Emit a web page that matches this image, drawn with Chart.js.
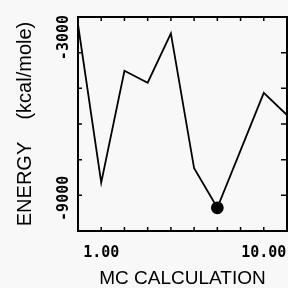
<!DOCTYPE html>
<html>
<head>
<meta charset="utf-8">
<script src="https://cdn.jsdelivr.net/npm/chart.js@4"></script>
<style>
  html, body { margin: 0; padding: 0; background: #f8f8f8; overflow: hidden; }
  #wrap { width: 292px; height: 288px; }
</style>
</head>
<body>
<div id="wrap"><canvas id="myChart"></canvas></div>
<script>
'use strict';

// ****** Data ******
let steps = [0, 1, 2, 3, 4, 5, 6, 7, 8, 9];
let energies = [-3250, -8575, -4810, -5210, -3550, -8090, -9420, -7490, -5550, -6300];
let lowestIndex = 6;

let xTickValues = [1, 8];
let xTickLabels = ['1.00', '10.00'];
let yTickValues = [-3000, -9000];
let yTickLabels = ['-3000', '-9000'];

let xTitle = 'MC CALCULATION';
let yTitle = 'ENERGY    (kcal/mole)';

const ctx = document.getElementById('myChart').getContext('2d');

let points = steps.map((s, i) => ({ x: s, y: energies[i] }));
let radii = steps.map((s, i) => i === lowestIndex ? 5.5 : 0);

// frame, inward ticks and rotated y labels
let framePlugin = {
  id: 'frame',
  afterDraw(chart) {
    let c = chart.ctx;
    let a = chart.chartArea;
    let xs = chart.scales.x;
    let ys = chart.scales.y;
    c.save();
    c.strokeStyle = '#000';
    c.lineWidth = 2;
    c.strokeRect(a.left, a.top, a.right - a.left, a.bottom - a.top);

    c.lineWidth = 1.5;
    c.beginPath();
    xs.ticks.forEach(t => {
      let px = xs.getPixelForValue(t.value);
      if (px <= a.left + 1 || px >= a.right - 1) return;
      c.moveTo(px, a.bottom); c.lineTo(px, a.bottom - 4);
      c.moveTo(px, a.top); c.lineTo(px, a.top + 4);
    });
    ys.ticks.forEach(t => {
      let py = ys.getPixelForValue(t.value);
      if (py <= a.top + 1 || py >= a.bottom - 1) return;
      c.moveTo(a.left, py); c.lineTo(a.left + 4, py);
      c.moveTo(a.right, py); c.lineTo(a.right - 6, py);
    });
    c.stroke();

    c.fillStyle = '#000';
    c.font = 'bold 15px "DejaVu Sans Mono"';
    c.textBaseline = 'middle';
    c.textAlign = 'center';
    yTickValues.forEach((v, i) => {
      let py = ys.getPixelForValue(v);
      let w = c.measureText(yTickLabels[i]).width;
      let cy = Math.max(py + 3, a.top - 2 + w / 2);
      c.save();
      c.translate(a.left - 14, cy);
      c.rotate(-Math.PI / 2);
      c.fillText(yTickLabels[i], 0, 0);
      c.restore();
    });
    c.restore();
  }
};

let myChart = new Chart(ctx, {
  type: 'line',
  data: {
    datasets: [{
      data: points,
      borderColor: '#000',
      backgroundColor: '#000',
      borderWidth: 1.8,
      pointRadius: radii,
      pointHoverRadius: radii,
      tension: 0
    }]
  },
  options: {
    responsive: true,
    maintainAspectRatio: false,
    animation: false,
    events: [],
    layout: { padding: { top: 17, right: 3, left: 0, bottom: 0 } },
    plugins: {
      legend: { display: false },
      tooltip: { enabled: false }
    },
    scales: {
      x: {
        type: 'linear',
        min: 0,
        max: 9,
        grid: { display: false },
        border: { display: false },
        ticks: {
          stepSize: 1,
          autoSkip: false,
          maxRotation: 0,
          padding: 5,
          color: '#000',
          font: { family: 'DejaVu Sans Mono', size: 15, weight: 'bold' },
          callback: function (value) {
            let k = xTickValues.indexOf(value);
            return k === -1 ? '' : xTickLabels[k];
          }
        },
        title: {
          display: true,
          text: xTitle,
          color: '#000',
          font: { family: 'Liberation Sans', size: 19, lineHeight: 1 },
          padding: { top: 0, bottom: 0 }
        },
        afterFit: function (scale) { scale.height = 57; }
      },
      y: {
        min: -10200,
        max: -3000,
        grid: { display: false },
        border: { display: false },
        ticks: { stepSize: 1200, display: false },
        title: {
          display: true,
          text: yTitle,
          color: '#000',
          font: { family: 'Liberation Sans', size: 20, lineHeight: 1 },
          padding: { top: 15, bottom: 0 }
        },
        afterFit: function (scale) { scale.width = 78; }
      }
    }
  },
  plugins: [framePlugin]
});
</script>
</body>
</html>
